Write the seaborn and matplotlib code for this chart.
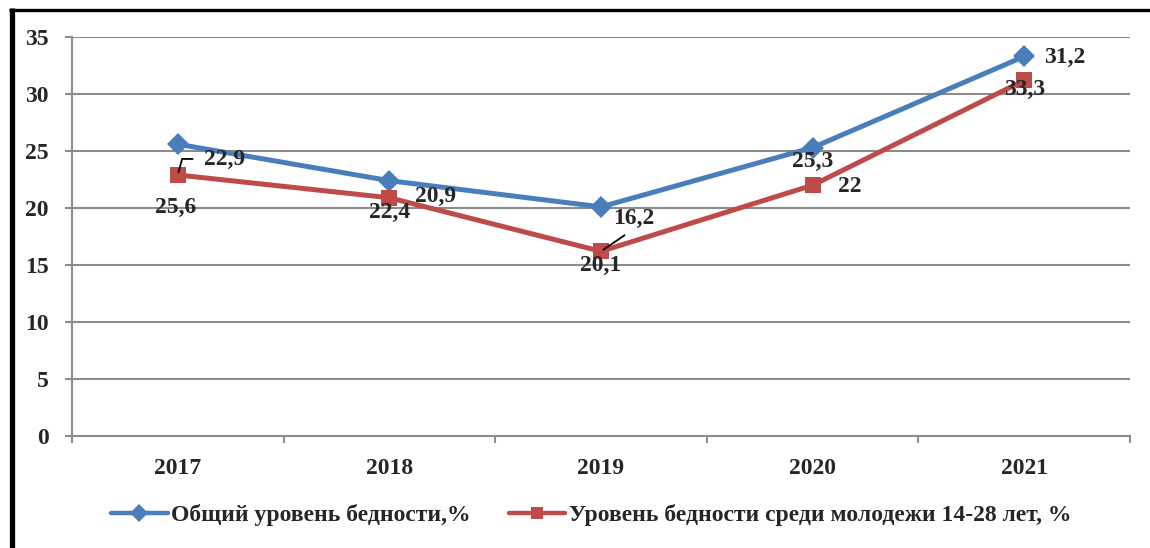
import matplotlib

matplotlib.use("Agg")

import matplotlib.pyplot as plt
import seaborn as sns
import numpy as np
import pandas as pd
from matplotlib.lines import Line2D

# -----------------------------
# Data
# -----------------------------
years = ["2017", "2018", "2019", "2020", "2021"]
total_poverty = [25.6, 22.4, 20.1, 25.3, 33.3]
youth_poverty = [22.9, 20.9, 16.2, 22.0, 31.2]
total_labels = ["25,6", "22,4", "20,1", "25,3", "33,3"]
youth_labels = ["22,9", "20,9", "16,2", "22", "31,2"]
series_names = ["Общий уровень бедности,%", "Уровень бедности среди молодежи 14-28 лет, %"]

# -----------------------------
# Style
# -----------------------------
sns.set_style("white")
plt.rcParams["font.family"] = ["Liberation Serif", "DejaVu Serif"]
plt.rcParams["font.weight"] = "bold"

BLUE = "#4A7EBB"
RED = "#BE4B48"
GRID = "#8C8C8C"
FS = 17

pos = np.arange(len(years))
df = pd.DataFrame({
    "pos": np.concatenate([pos, pos]),
    "value": total_poverty + youth_poverty,
    "series": [series_names[0]] * len(years) + [series_names[1]] * len(years),
})

fig = plt.figure(figsize=(11.5, 5.48), dpi=100)
ax = fig.add_axes([0.0626, 0.2044, 0.92, 0.728])

sns.lineplot(
    data=df,
    x="pos",
    y="value",
    hue="series",
    style="series",
    markers={series_names[0]: "D", series_names[1]: "s"},
    dashes=False,
    palette={series_names[0]: BLUE, series_names[1]: RED},
    linewidth=3.6,
    markersize=11,
    markeredgewidth=0,
    ax=ax,
    legend=False,
)

ax.set_xlim(-0.5, len(years) - 0.5)
ax.set_ylim(0, 35)
ax.set_yticks(range(0, 36, 5))
ax.set_xticks(pos)
ax.set_xticklabels(years)
ax.set_xticks(np.arange(-0.5, len(years), 1.0), minor=True)
ax.set_xlabel("")
ax.set_ylabel("")

ax.yaxis.grid(True, color=GRID, linewidth=1.5)
ax.xaxis.grid(False)
for side in ["top", "right"]:
    ax.spines[side].set_visible(False)
for side in ["left", "bottom"]:
    ax.spines[side].set_color(GRID)
    ax.spines[side].set_linewidth(1.5)

ax.tick_params(axis="y", which="major", length=5, width=1.5, color=GRID,
               labelsize=FS, pad=12, left=True)
ax.tick_params(axis="x", which="major", length=0, labelsize=FS, pad=16)
ax.tick_params(axis="x", which="minor", length=5, width=1.5, color=GRID,
               bottom=True, direction="out")
for lab in ax.get_xticklabels() + ax.get_yticklabels():
    lab.set_fontweight("bold")

# -----------------------------
# Data labels (pixel offsets from the marker)
# -----------------------------
total_offsets = [(-2, -63), (0, -32), (0, -59), (0, -14), (0, -33)]
youth_offsets = [(47, 16), (46, 1), (33, 33), (37, -1), (40, 23)]
leader_styles = [
    dict(arrowstyle="-", color="black", lw=1.3, shrinkA=6, shrinkB=2,
         relpos=(0.0, 0.5), connectionstyle="angle,angleA=0,angleB=75,rad=0"),
    None,
    dict(arrowstyle="-", color="black", lw=1.3, shrinkA=4, shrinkB=2,
         relpos=(0.5, 0.0)),
    None,
    None,
]

for i in range(len(years)):
    ax.annotate(total_labels[i], xy=(pos[i], total_poverty[i]),
                xytext=total_offsets[i], textcoords="offset pixels",
                ha="center", va="center", fontsize=FS, fontweight="bold")
    ax.annotate(youth_labels[i], xy=(pos[i], youth_poverty[i]),
                xytext=youth_offsets[i], textcoords="offset pixels",
                ha="center", va="center", fontsize=FS, fontweight="bold",
                arrowprops=leader_styles[i])

# -----------------------------
# Legend
# -----------------------------
handles = [
    Line2D([0], [0], color=BLUE, lw=3.2, marker="D", markersize=9, markeredgewidth=0),
    Line2D([0], [0], color=RED, lw=3.2, marker="s", markersize=9, markeredgewidth=0),
]
leg = fig.legend(
    handles,
    series_names,
    loc="center",
    bbox_to_anchor=(0.514, 0.06),
    ncol=2,
    frameon=False,
    handlelength=2.4,
    handletextpad=0.15,
    columnspacing=1.6,
    prop={"weight": "bold", "size": FS},
)

# -----------------------------
# Outer frame (top and left only)
# -----------------------------
fig.add_artist(Line2D([11.5 / 1150, 11.5 / 1150], [0, 1 - 8 / 548],
                      transform=fig.transFigure, color="black", lw=3.8,
                      solid_capstyle="butt"))
fig.add_artist(Line2D([9 / 1150, 1], [1 - 9.5 / 548, 1 - 9.5 / 548],
                      transform=fig.transFigure, color="black", lw=2.4,
                      solid_capstyle="butt"))

fig.savefig("out.png", dpi=100)
plt.close("all")
